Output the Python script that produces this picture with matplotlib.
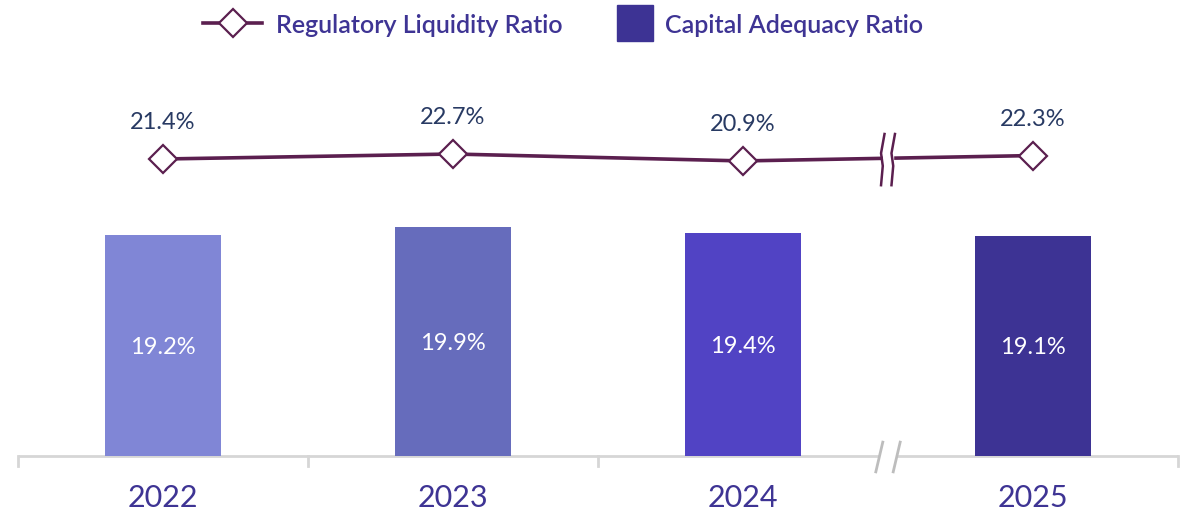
import matplotlib
matplotlib.use("Agg")
import matplotlib.pyplot as plt
from matplotlib.lines import Line2D

years = ["2022", "2023", "2024", "2025"]
car_values = [19.2, 19.9, 19.4, 19.1]          # Capital Adequacy Ratio (bars)
rlr_values = [21.4, 22.7, 20.9, 22.3]          # Regulatory Liquidity Ratio (line)
bar_colors = ["#8086D6", "#666CBC", "#5143C4", "#3D3394"]
legend_labels = ["Regulatory Liquidity Ratio", "Capital Adequacy Ratio"]

line_color = "#5B1F4F"
year_color = "#3E3494"
label_color = "#283A63"
axis_color = "#D6D6D6"

plt.rcParams["font.family"] = ["Lato", "DejaVu Sans"]

fig = plt.figure(figsize=(11.9, 5.11), dpi=100)
W, H = 1190, 511
ax_left, ax_right = 18, 1178
ax_bottom, ax_top = 456, 60
ax = fig.add_axes([ax_left / W, (H - ax_bottom) / H,
                   (ax_right - ax_left) / W, (ax_bottom - ax_top) / H])
x = list(range(len(years)))

ax.bar(x, car_values, width=0.4, color=bar_colors, zorder=2)
ax.set_xlim(-0.5, 3.5)
ax.set_ylim(0, 396 / 11.5)
for xi, v in zip(x, car_values):
    ax.text(xi, v / 2 - 0.15, f"{v}%", ha="center", va="center", color="white",
            fontsize=17)

for s in ax.spines.values():
    s.set_visible(False)
ax.set_yticks([])
ax.set_xticks(x)
ax.set_xticklabels(years, fontsize=22, color=year_color)
ax.tick_params(axis="x", length=0, pad=20)

# axis baseline with break and separator ticks
trans = ax.get_xaxis_transform()
ax.plot([-0.5, 2.47], [0, 0], color=axis_color, lw=2, transform=trans,
        clip_on=False, zorder=1, solid_capstyle="butt")
ax.plot([2.53, 3.5], [0, 0], color=axis_color, lw=2, transform=trans,
        clip_on=False, zorder=1, solid_capstyle="butt")
for b in [-0.5, 0.5, 1.5, 3.5]:
    ax.plot([b, b], [0, -0.025], color=axis_color, lw=2, transform=trans,
            clip_on=False)
for off in [-0.03, 0.03]:
    ax.plot([2.5 + off - 0.012, 2.5 + off + 0.012], [-0.04, 0.035],
            color="#BDBDBD", lw=2, transform=trans, clip_on=False)

# line on secondary axis
ax2 = ax.twinx()
lo = -214.6 / 3.85
ax2.set_ylim(lo, lo + 396 / 3.85)
ax2.set_yticks([])
for s in ax2.spines.values():
    s.set_visible(False)
ax2.plot(x, rlr_values, color=line_color, lw=2.6, marker="D", markersize=14,
         markerfacecolor="white", markeredgecolor=line_color,
         markeredgewidth=1.6, zorder=3)
for xi, v in zip(x, rlr_values):
    ax2.text(xi, v + 6.7, f"{v}%", ha="center", va="bottom", color=label_color,
             fontsize=17)

# break marks on line
bx = 2.5
ymid = (rlr_values[2] + rlr_values[3]) / 2
ax2.fill_between([bx - 0.018, bx + 0.018], ymid - 1.5, ymid + 1.5,
                 color="white", zorder=4)
for off in [-0.018, 0.018]:
    xs = [bx + off + 0.006, bx + off - 0.006, bx + off + 0.0, bx + off - 0.006]
    ys = [ymid + 6.3, ymid + 1.3, ymid - 2.0, ymid - 7.0]
    ax2.plot(xs, ys, color=line_color, lw=1.8, zorder=5)

# legend (placed in figure pixel coordinates)
def fx(px):
    return px / W

def fy(py):
    return 1 - py / H

ly = 23
fig.add_artist(Line2D([fx(203), fx(262)], [fy(ly), fy(ly)], color=line_color,
                      lw=2.6, transform=fig.transFigure))
fig.add_artist(Line2D([fx(232.5)], [fy(ly)], marker="D", markersize=14,
                      markerfacecolor="white", markeredgecolor=line_color,
                      markeredgewidth=1.6, transform=fig.transFigure))
fig.text(fx(276), fy(ly), legend_labels[0], ha="left", va="center_baseline",
         fontsize=18, fontweight="semibold", color=year_color)
fig.add_artist(Line2D([fx(635)], [fy(ly)], marker="s", markersize=26,
                      lw=0, color=bar_colors[3], transform=fig.transFigure))
fig.text(fx(665), fy(ly), legend_labels[1], ha="left", va="center_baseline",
         fontsize=18, fontweight="semibold", color=year_color)

fig.savefig("out.png", dpi=100)
